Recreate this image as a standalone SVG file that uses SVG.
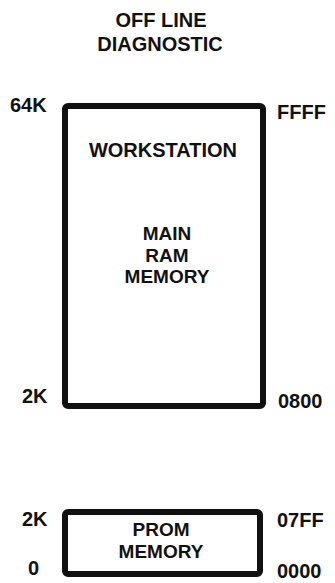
<svg xmlns="http://www.w3.org/2000/svg" width="335" height="583" viewBox="0 0 335 583">
<style>
.t{font-family:"Liberation Sans",Arial,sans-serif;font-weight:bold;font-size:20px;fill:#111}
.s{font-size:19px}
.c{text-anchor:middle}
.box{fill:#fff;stroke:#111;stroke-width:6}
</style>
<rect width="335" height="583" fill="#fff"/>
<g id="title">
<text class="t c" x="161" y="27">OFF LINE</text>
<text class="t c" x="160" y="51">DIAGNOSTIC</text>
</g>
<g id="main-ram">
<rect class="box" x="65" y="106" width="198" height="300" rx="3"/>
<text class="t c" x="163" y="157">WORKSTATION</text>
<text class="t s c" x="167" y="240">MAIN</text>
<text class="t s c" x="167" y="261.5">RAM</text>
<text class="t s c" x="167" y="283">MEMORY</text>
</g>
<g id="prom">
<rect class="box" x="65" y="512" width="195" height="62" rx="3"/>
<text class="t s c" x="161" y="536">PROM</text>
<text class="t s c" x="161" y="557.5">MEMORY</text>
</g>
<g id="labels">
<text class="t" x="10" y="112">64K</text>
<text class="t" x="277" y="119">FFFF</text>
<text class="t" x="22" y="403">2K</text>
<text class="t" x="278" y="408">0800</text>
<text class="t" x="22" y="526">2K</text>
<text class="t" x="277" y="527">07FF</text>
<text class="t" x="28" y="575">0</text>
<text class="t" x="277" y="578">0000</text>
</g>
<g id="connectors"></g>
</svg>
